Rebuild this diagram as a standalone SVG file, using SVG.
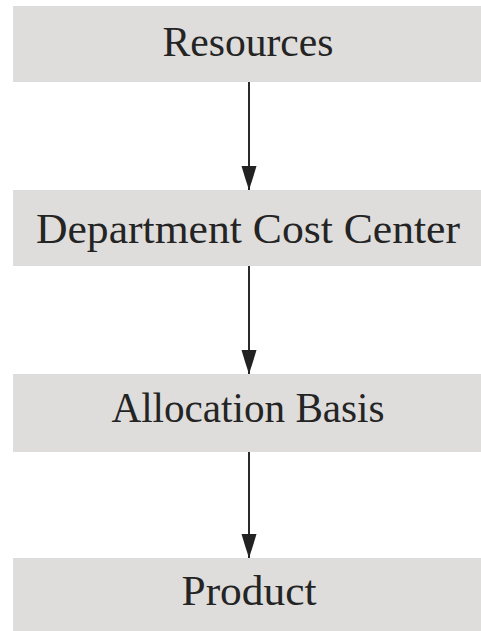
<svg xmlns="http://www.w3.org/2000/svg" width="481" height="631" viewBox="0 0 481 631">
  <style>
    .box { fill: #dedddb; }
    .label { font-family: "Liberation Serif", "Times New Roman", serif; font-size: 42px; fill: #242424; text-anchor: middle; }
    .link { stroke: #2a2a2a; stroke-width: 2; fill: none; }
  </style>
  <defs>
    <!-- tapered arrowhead pointing along +x, tip at the reference point -->
    <marker id="head" viewBox="0 0 24 16" refX="24" refY="8" markerWidth="24" markerHeight="16" markerUnits="userSpaceOnUse" orient="auto">
      <path d="M0,0.5 Q12,4 24,8 Q12,12 0,15.5 Z" fill="#222"/>
    </marker>
  </defs>
  <rect width="481" height="631" fill="#ffffff"/>

  <g id="connectors">
    <line class="link" x1="249" y1="82" x2="249" y2="190" marker-end="url(#head)"/>
    <line class="link" x1="249" y1="266" x2="249" y2="374" marker-end="url(#head)"/>
    <line class="link" x1="249" y1="452" x2="249" y2="558" marker-end="url(#head)"/>
  </g>

  <g id="resources">
    <rect class="box" x="13" y="6" width="468" height="76"/>
    <text class="label" x="248" y="56" textLength="171" lengthAdjust="spacingAndGlyphs">Resources</text>
  </g>
  <g id="department-cost-center">
    <rect class="box" x="13" y="190" width="468" height="76"/>
    <text class="label" x="248" y="243" textLength="424" lengthAdjust="spacingAndGlyphs">Department Cost Center</text>
  </g>
  <g id="allocation-basis">
    <rect class="box" x="13" y="374" width="468" height="78"/>
    <text class="label" x="248" y="422" textLength="273" lengthAdjust="spacingAndGlyphs">Allocation Basis</text>
  </g>
  <g id="product">
    <rect class="box" x="13" y="558" width="468" height="73"/>
    <text class="label" x="249" y="605" textLength="135" lengthAdjust="spacingAndGlyphs">Product</text>
  </g>
</svg>
